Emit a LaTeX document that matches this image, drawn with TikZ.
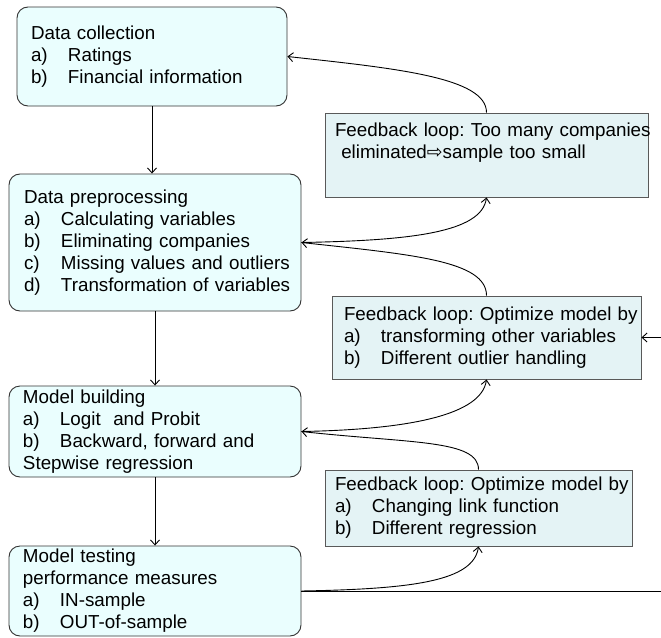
\documentclass[tikz,border=0pt]{standalone}
\usepackage{fontspec}
\setmainfont{Liberation Sans}
\newfontfamily\arrowfont{DejaVu Sans}
\usetikzlibrary{arrows.meta}
\frenchspacing
\definecolor{stagefill}{RGB}{234,254,254}
\definecolor{loopfill}{RGB}{228,243,245}
\newcommand{\itm}[2]{\mbox{\makebox[37pt][l]{#1}#2}}

\begin{document}
\begin{tikzpicture}[x=1pt, y=-1pt, line width=0.9pt, >={Straight Barb[length=5pt,width=9pt]},
    font=\fontsize{18.8}{22}\selectfont,
    stage/.style={draw=black!80, rounded corners=11pt, fill=stagefill, align=left, inner ysep=0pt},
    loop/.style={draw=black!65, fill=loopfill, align=left, inner ysep=0pt}]
  \useasboundingbox (0,0) rectangle (661,637);
  \clip (0,0) rectangle (661,637);
  % main stages
  \node[stage, inner xsep=14pt, text width=242pt, minimum height=99pt] (coll) at (152,56.5)
       {\mbox{Data collection}\\ \itm{a)}{Ratings}\\ \itm{b)}{Financial information}};
  \node[stage, inner xsep=15pt, text width=262pt, minimum height=137pt] (prep) at (155,242.5)
       {\mbox{Data preprocessing}\\ \itm{a)}{Calculating variables}\\ \itm{b)}{Eliminating companies}\\
        \itm{c)}{Missing values and outliers}\\ \itm{d)}{Transformation of variables}};
  \node[stage, inner xsep=14pt, text width=264pt, minimum height=91pt] (build) at (155,431.5)
       {\mbox{Model building}\\ \itm{a)}{Logit~ and Probit}\\ \itm{b)}{Backward, forward and}\\
        \mbox{Stepwise regression}};
  \node[stage, inner xsep=14pt, text width=264pt, minimum height=90pt] (test) at (155,591)
       {\mbox{Model testing}\\ \mbox{performance measures}\\ \itm{a)}{IN-sample}\\ \itm{b)}{OUT-of-sample}};
  % feedback loops
  \node[loop, inner xsep=10pt, text width=303pt, minimum height=84pt] (fbA) at (486.5,155)
       {\mbox{Feedback loop: Too many companies}\\ \mbox{\ eliminated{\arrowfont ⇨}sample too small}\\ \strut};
  \node[loop, inner xsep=12pt, text width=285pt, minimum height=83pt] (fbB) at (486.5,337.5)
       {\mbox{Feedback loop: Optimize model by}\\ \itm{a)}{transforming other variables}\\
        \itm{b)}{Different outlier handling}};
  \node[loop, inner xsep=10pt, text width=287pt, minimum height=76pt] (fbC) at (478.5,508)
       {\mbox{Feedback loop: Optimize model by}\\ \itm{a)}{Changing link function}\\ \itm{b)}{Different regression}};
  % forward flow
  \draw[->] (coll.south) -- (coll.south |- prep.north);
  \draw[->] (prep.south) -- (build.north);
  \draw[->] (build.south) -- (test.north);
  % loops back
  \draw[->] (fbA.north) .. controls +(0,-35) and +(110,12) .. (coll.east);
  \draw[->] (prep.east) .. controls +(110,-2) and +(-5,35) .. (fbA.south);
  \draw[->] (fbB.north) .. controls +(0,-35) and +(110,12) .. (prep.east);
  \draw[->] (build.east) .. controls +(110,-2) and +(-5,35) .. (fbB.south);
  \draw[->] (fbC.north) .. controls +(0,-30) and +(110,12) .. (build.east);
  \draw[->] (test.east) .. controls +(110,-2) and +(-5,35) .. (fbC.south);
  \draw[->] (test.east) -- (680,591) |- (fbB.east);
\end{tikzpicture}
\end{document}
